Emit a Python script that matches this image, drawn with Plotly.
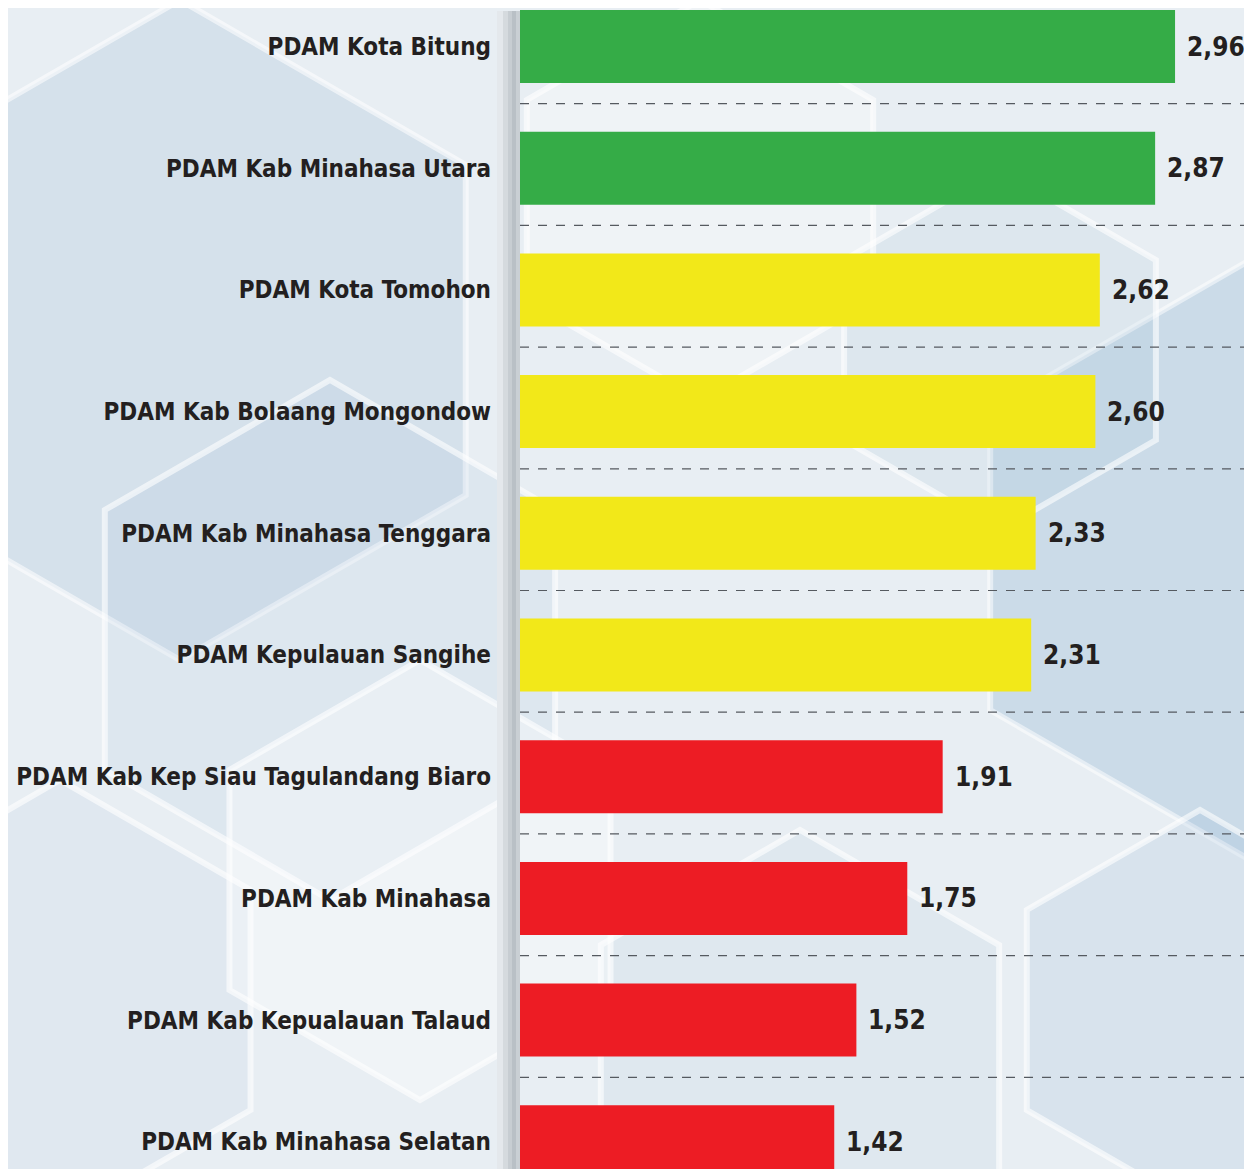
import math
import plotly.graph_objects as go

categories = [
    "PDAM Kota Bitung",
    "PDAM Kab Minahasa Utara",
    "PDAM Kota Tomohon",
    "PDAM Kab Bolaang Mongondow",
    "PDAM Kab Minahasa Tenggara",
    "PDAM Kepulauan Sangihe",
    "PDAM Kab Kep Siau Tagulandang Biaro",
    "PDAM Kab Minahasa",
    "PDAM Kab Kepualauan Talaud",
    "PDAM Kab Minahasa Selatan",
]
values = [2.96, 2.87, 2.62, 2.60, 2.33, 2.31, 1.91, 1.75, 1.52, 1.42]

# page body has an 8px margin: shrink the figure so it ends at the window edge
OFF = 8
W, H = 1252 - OFF, 1169 - OFF
L = 520 - OFF
PW = W - L
STEP = 121.7
C0 = 46.5 - OFF


def color_for(v):
    if v >= 2.8:
        return "#35ac47"
    if v >= 2.2:
        return "#f2e819"
    return "#ed1c24"


pos = list(range(len(categories)))
colors = [color_for(v) for v in values]

FONT = "DejaVu Sans Condensed, Liberation Sans Narrow, Arial Narrow, sans-serif"

fig = go.Figure()
fig.add_trace(go.Bar(
    y=pos, x=values, orientation="h",
    marker=dict(color=colors, line=dict(width=0)),
    width=0.6,
    hoverinfo="skip",
))

annotations = []
for p, v in zip(pos, values):
    annotations.append(dict(
        x=v, y=p, xref="x", yref="y", text=f"{v:.2f}".replace(".", ","),
        showarrow=False, xanchor="left", yanchor="middle", xshift=10,
        font=dict(family=FONT, size=26, color="#231f20", weight="bold"),
    ))


def px(x):
    return (x - OFF - L) / PW


def py(y):
    return 1 - (y - OFF) / H


def hexpath(cx, cy, r):
    pts = []
    for k in range(6):
        a = math.radians(60 * k + 30)
        pts.append((px(cx + r * math.cos(a)), py(cy + r * math.sin(a))))
    return "M " + " L ".join(f"{a:.4f},{b:.4f}" for a, b in pts) + " Z"


shapes = []
hexes = [
    (180, 330, 330, "rgba(140,175,205,0.20)", "rgba(255,255,255,0.55)"),
    (330, 640, 260, "rgba(150,185,210,0.12)", "rgba(255,255,255,0.6)"),
    (60, 1000, 220, "rgba(160,190,215,0.10)", "rgba(255,255,255,0.6)"),
    (1250, 560, 300, "rgba(120,165,200,0.26)", "rgba(255,255,255,0.5)"),
    (1000, 350, 180, "rgba(160,195,215,0.15)", "rgba(255,255,255,0.6)"),
    (800, 1060, 230, "rgba(150,185,210,0.10)", "rgba(255,255,255,0.6)"),
    (1200, 1010, 200, "rgba(130,170,205,0.15)", "rgba(255,255,255,0.6)"),
    (700, 200, 200, "rgba(255,255,255,0.30)", "rgba(255,255,255,0.6)"),
    (420, 880, 220, "rgba(255,255,255,0.35)", "rgba(255,255,255,0.6)"),
]
for cx, cy, r, fc, lc in hexes:
    shapes.append(dict(type="path", xref="paper", yref="paper", path=hexpath(cx, cy, r),
                       fillcolor=fc, line=dict(color=lc, width=6), layer="below"))

# shadow strip left of bars
strip = [(497, 503, "#e4e8ec"), (503, 508, "#d5dade"), (508, 512, "#c7cdd2"),
         (512, 516, "#b9c0c6"), (516, 520, "#c9cfd4")]
for x0, x1, c in strip:
    shapes.append(dict(type="rect", xref="paper", yref="paper",
                       x0=px(x0), x1=px(x1), y0=py(1169), y1=py(11),
                       fillcolor=c, line=dict(width=0), layer="below"))

# dashed separators
for i in range(len(categories) - 1):
    shapes.append(dict(type="line", xref="paper", yref="y", x0=0, x1=1,
                       y0=i + 0.47, y1=i + 0.47,
                       line=dict(color="#555a60", width=1.2, dash="dash"), layer="below"))

fig.update_layout(
    width=W, height=H,
    margin=dict(l=L, r=0, t=0, b=0, autoexpand=False),
    paper_bgcolor="#e8eef3",
    plot_bgcolor="rgba(0,0,0,0)",
    showlegend=False,
    shapes=shapes,
    annotations=annotations,
    xaxis=dict(range=[0, PW / 221.3], visible=False, fixedrange=True, automargin=False),
    yaxis=dict(
        range=[(H - C0) / STEP, -C0 / STEP],
        tickvals=pos, ticktext=categories,
        ticklabelstandoff=28,
        tickfont=dict(family=FONT, size=24, color="#231f20", weight="bold"),
        showgrid=False, zeroline=False, showline=False, ticks="",
        automargin=False, fixedrange=True,
    ),
    bargap=0.4,
)

fig.write_html("out.html")
